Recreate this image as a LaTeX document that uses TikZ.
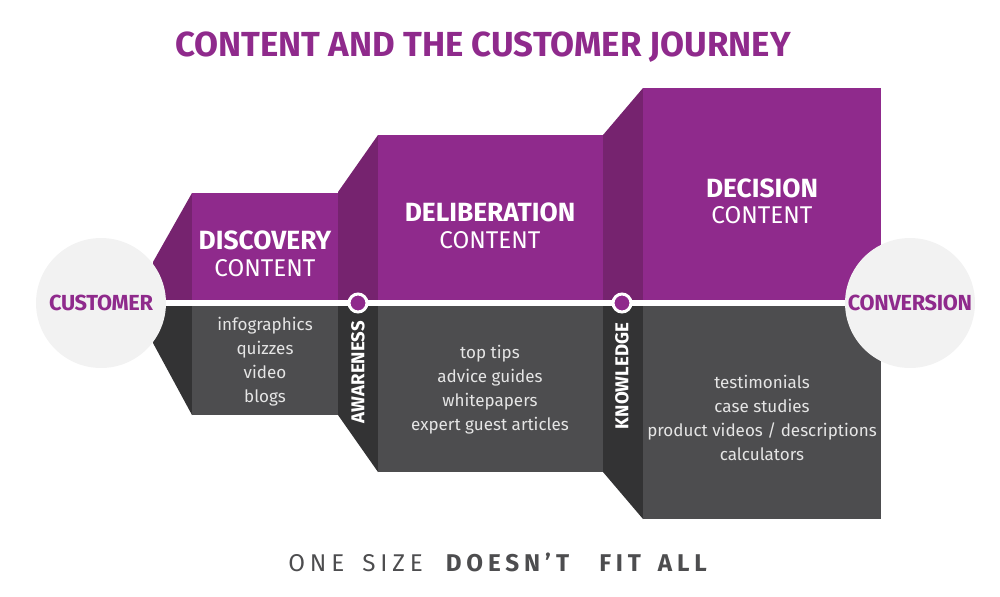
\documentclass[tikz,border=0pt]{standalone}
\usepackage{fontspec}
\setmainfont{Fira Sans}
\setsansfont{Fira Sans}
\newfontfamily\spaced[LetterSpace=20, WordSpace=1.6]{Fira Sans}
\newfontfamily\tight[LetterSpace=-1.5]{Fira Sans}
\usetikzlibrary{positioning}
\definecolor{cpurple}{HTML}{8F2A8C}
\definecolor{cplum}{HTML}{76236F}
\definecolor{cgrey}{HTML}{4D4D4F}
\definecolor{cdark}{HTML}{333334}
\definecolor{clight}{HTML}{F2F2F2}
\tikzset{
  every picture/.style={font=\sffamily},
  heading/.style={text=white, font=\fontsize{15}{18}\selectfont\bfseries},
  sub/.style={text=white, font=\fontsize{13.8}{16}\selectfont},
  items/.style={text=white!90!black, align=center, font=\fontsize{9.7}{13.7}\selectfont},
  stage/.style={text=white, rotate=90, font=\fontsize{10.6}{12}\selectfont\bfseries},
  endpoint/.style={circle, fill=clight, minimum size=2.6cm, inner sep=0pt, text=cpurple, font=\tight\fontsize{12.4}{14}\selectfont\bfseries},
  milestone/.style={circle, fill=cpurple, draw=white, line width=1.7pt, minimum size=0.36cm, inner sep=0pt},
  journey/.style={draw=white, line width=0.12cm},
}

\begin{document}
\begin{tikzpicture}[x=0.02cm, y=-0.02cm]
  \useasboundingbox (0,0) rectangle (1000,596);
  \node[font=\fontsize{19.8}{23}\selectfont\bfseries, text=cpurple] (title) at (483,47) {CONTENT AND THE CUSTOMER JOURNEY};
  % discovery block
  \fill[cplum] (153,300) -- (153,262) -- (192,193) -- (192,300) -- cycle;
  \fill[cdark] (153,306) -- (192,306) -- (192,415) -- (153,343) -- cycle;
  \fill[cpurple] (192,193) rectangle (338,300);
  \fill[cgrey] (192,306) rectangle (338,415);
  % deliberation block
  \fill[cplum] (338,300) -- (338,192) -- (378,135) -- (378,300) -- cycle;
  \fill[cdark] (338,306) -- (378,306) -- (378,472) -- (338,415) -- cycle;
  \fill[cpurple] (378,135) rectangle (603,300);
  \fill[cgrey] (378,306) rectangle (603,472);
  % decision block
  \fill[cplum] (603,300) -- (603,135) -- (643,88) -- (643,300) -- cycle;
  \fill[cdark] (603,306) -- (643,306) -- (643,519) -- (603,472) -- cycle;
  \fill[cpurple] (643,88) rectangle (881,300);
  \fill[cgrey] (643,306) rectangle (881,519);
  % headings
  \node[heading] (discH) at (265,240) {DISCOVERY};
  \node[sub] (discC) at (265,268) {CONTENT};
  \node[heading] (delibH) at (490,212) {DELIBERATION};
  \node[sub] (delibC) at (490,240) {CONTENT};
  \node[heading] (decH) at (762,188) {DECISION};
  \node[sub] (decC) at (762,215) {CONTENT};
  % content types
  \node[items] (discL) at (265,362) {infographics\\ quizzes\\ video\\ blogs};
  \node[items] (delibL) at (490,390) {top tips\\ advice guides\\ whitepapers\\ expert guest articles};
  \node[items] (decL) at (762,418) {testimonials\\ case studies\\ product videos / descriptions\\ calculators};
  \node[stage] (aware) at (358,372) {AWARENESS};
  \node[stage] (know) at (622,376) {KNOWLEDGE};
  % journey line
  \node[endpoint] (cust) at (101,303) {CUSTOMER};
  \node[endpoint] (conv) at (910,303) {CONVERSION};
  \draw[journey] (cust) -- (conv);
  \node[milestone] (m1) at (358,303) {};
  \node[milestone] (m2) at (622,303) {};
  \node[font=\spaced\fontsize{13.8}{16}\selectfont, text=cgrey] (motto) at (500,562) {ONE SIZE \textbf{DOESN’T}\hspace{0.3em} \textbf{FIT ALL}};
\end{tikzpicture}
\end{document}
